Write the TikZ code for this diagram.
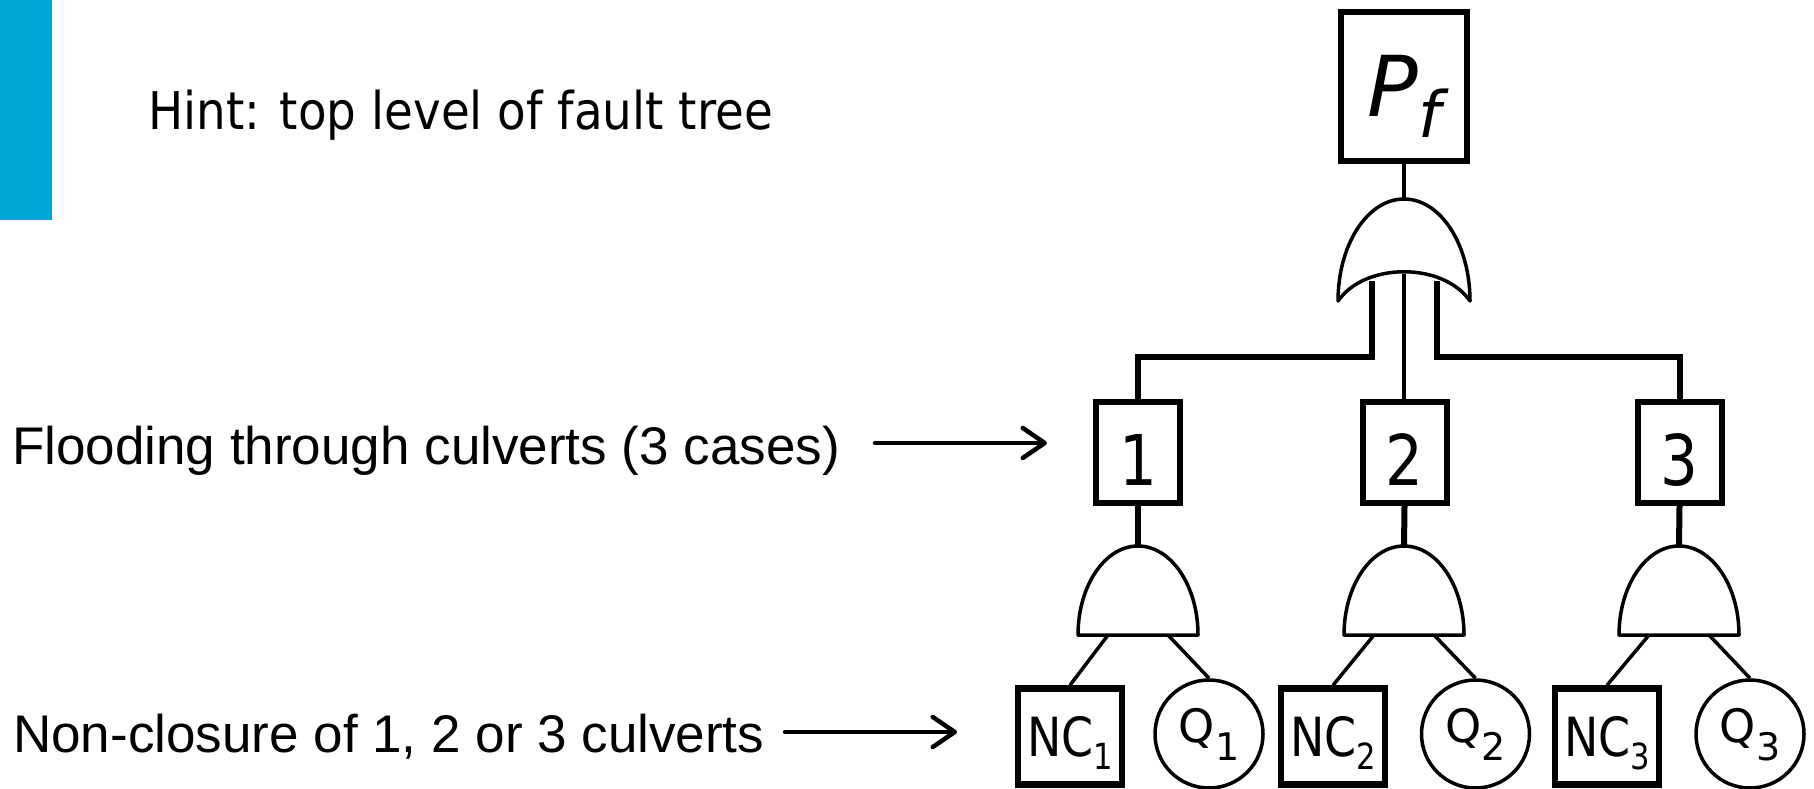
\documentclass[tikz,border=0pt]{standalone}
\usepackage{fontspec}
\setmainfont{DejaVu Sans}
\newfontfamily\arialf{Liberation Sans}
\usetikzlibrary{arrows.meta}
\definecolor{barblue}{RGB}{0,166,214}
\newcommand\NClabel[1]{\scalebox{0.85}[1]{\fontsize{54}{54}\selectfont NC\raisebox{-13pt}{\fontsize{36}{36}\selectfont #1}}}
\newcommand\Qlabel[1]{\fontsize{46}{46}\selectfont Q\raisebox{-18pt}{\fontsize{38}{38}\selectfont #1}}
\newcommand\Digitlabel[1]{\scalebox{0.85}[1]{\fontsize{70}{70}\selectfont #1}}
\begin{document}
\begin{tikzpicture}[x=1pt,y=-1pt,
  topbox/.style={draw, line width=6.5pt, inner sep=0pt, minimum width=126pt, minimum height=149pt, text height=61pt, text depth=0pt},
  casebox/.style={draw, line width=6pt, inner sep=0pt, minimum width=84pt, minimum height=101pt, text height=65pt, text depth=0pt},
  ncbox/.style={draw, line width=6.5pt, inner sep=0pt, minimum width=104pt, minimum height=96pt, text height=39pt, text depth=0pt},
  qcircle/.style={draw, circle, line width=3.5pt, inner sep=0pt, minimum size=108pt, text height=16pt, text depth=0pt},
  gate/.style={draw, line width=3.5pt, line join=round},
  heavyconn/.style={draw, line width=6pt, line join=miter},
  midconn/.style={draw, line width=4.5pt},
  thinconn/.style={draw, line width=3.5pt},
  pointer/.style={draw, line width=4.5pt, line cap=round, -{Straight Barb[length=22pt,width=30pt,round]}},
  label/.style={anchor=base west, inner sep=0pt}
]
\useasboundingbox (0,0) rectangle (1814,789);

% blue bar
\fill[barblue] (0,0) rectangle (52,220);

% texts
\node[label] (hint) at (148,130) {\scalebox{0.9}[1]{\fontsize{52}{52}\selectfont Hint: top level of fault tree}};
\node[label, font=\arialf\fontsize{53}{53}\selectfont] (flood) at (12,464) {Flooding through culverts (3 cases)};
\node[label, font=\arialf\fontsize{53}{53}\selectfont] (nonclos) at (13,752) {Non-closure of 1, 2 or 3 culverts};

% top event
\node[topbox] (pf) at (1404,86.5) {\fontsize{84}{84}\selectfont\itshape P\raisebox{-21pt}{\fontsize{64}{64}\selectfont f}};

% OR gate
\coordinate (ortop) at (1404,199);
\coordinate (orinL) at (1371.5,281);
\coordinate (orinM) at (1404,274);
\coordinate (orinR) at (1437,281);
\coordinate (busy) at (0,357);
\draw[gate] (1338,301) .. controls (1338,244.5) and (1367.5,199) .. (ortop)
  .. controls (1440.5,199) and (1470,244.5) .. (1470,301)
  .. controls (1443,262) and (1365,262) .. (1338,301) -- cycle;
\draw[midconn] (pf.south) -- (ortop);

% case boxes
\node[casebox] (b1) at (1138,452.5) {\Digitlabel{1}};
\node[casebox] (b2) at (1404.5,452.5) {\Digitlabel{2}};
\node[casebox] (b3) at (1679.5,452.5) {\Digitlabel{3}};

\draw[heavyconn] (orinL) -- (orinL |- busy) -| (b1.north);
\draw[midconn] (orinM) -- (orinM |- b2.north);
\draw[heavyconn] (orinR) -- (orinR |- busy) -| (b3.north);

% basic events
\node[ncbox] (nc1) at (1070,736.5) {\NClabel{1}};
\node[ncbox] (nc2) at (1333,736.5) {\NClabel{2}};
\node[ncbox] (nc3) at (1607,736.5) {\NClabel{3}};
\node[qcircle] (q1) at (1209,734) {\Qlabel{1}};
\node[qcircle] (q2) at (1475.5,734) {\Qlabel{2}};
\node[qcircle] (q3) at (1750,734) {\Qlabel{3}};

% AND gates
\foreach \cx/\i in {1138/1,1404/2,1679/3}{
  \coordinate (g\i top) at (\cx,546);
  \coordinate (g\i l) at (\cx-30,635);
  \coordinate (g\i r) at (\cx+30,635);
  \draw[gate] (\cx-60,635) .. controls (\cx-60,585.8) and (\cx-33.1,546) .. (g\i top)
    .. controls (\cx+33.1,546) and (\cx+60,585.8) .. (\cx+60,635) -- cycle;
  \draw[heavyconn] (b\i.south) -- (g\i top);
  \draw[thinconn] (g\i l) -- (nc\i.north);
  \draw[thinconn] (g\i r) -- (q\i.north);
}

% pointer arrows
\coordinate (a1s) at (875,443);
\coordinate (a1e) at (1047,443);
\coordinate (a2s) at (785,732);
\coordinate (a2e) at (957,732);
\draw[pointer] (a1s) -- (a1e);
\draw[pointer] (a2s) -- (a2e);
\end{tikzpicture}
\end{document}
